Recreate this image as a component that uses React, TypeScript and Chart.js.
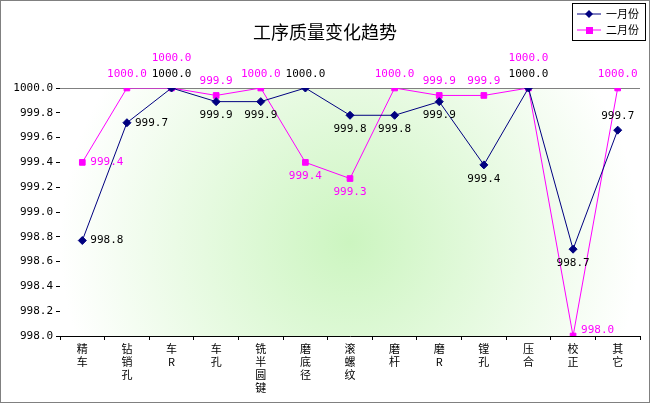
import React, { useEffect, useRef } from "react";
import { Chart, registerables } from "chart.js";
Chart.register(...registerables);

const categories = [["精","车"],["钻","销","孔"],["车","R"],["车","孔"],["铣","半","圆","键"],["磨","底","径"],["滚","螺","纹"],["磨","杆"],["磨","R"],["镗","孔"],["压","合"],["校","正"],["其","它"]];
const seriesNames = ["一月份", "二月份"];
const jan = [998.77, 999.72, 1000.0, 999.89, 999.89, 1000.0, 999.78, 999.78, 999.89, 999.38, 1000.0, 998.70, 999.66];
const feb = [999.40, 1000.0, 1000.0, 999.94, 1000.0, 999.40, 999.27, 1000.0, 999.94, 999.94, 1000.0, 998.0, 1000.0];
const janLabelPos = ["r","r","a","b","b","a","b","b","b","b","a","b","a"];
const febLabelPos = ["r","a","a2","a","a","b","b","a","a","a","a2","r","a"];
const yTicks = [998.0, 998.2, 998.4, 998.6, 998.8, 999.0, 999.2, 999.4, 999.6, 999.8, 1000.0];

const FONT = "'DejaVu Sans Mono', monospace";

const deco = {
  id: "deco",
  beforeDatasetsDraw(chart: any) {
    const { ctx, chartArea: a } = chart;
    ctx.save();
    const cx = (a.left + a.right) / 2, cy = (a.top + a.bottom) / 2 + 30;
    const g = ctx.createRadialGradient(cx, cy, 0, cx, cy, (a.right - a.left) / 2);
    g.addColorStop(0, "#ccf5c0");
    g.addColorStop(1, "#ffffff");
    ctx.fillStyle = g;
    ctx.fillRect(a.left, a.top, a.right - a.left, a.bottom - a.top);
    ctx.strokeStyle = "#808080";
    ctx.lineWidth = 1;
    ctx.beginPath();
    ctx.moveTo(a.left, a.top + 0.5);
    ctx.lineTo(a.right, a.top + 0.5);
    ctx.stroke();
    ctx.restore();
  },
  afterDraw(chart: any) {
    const { ctx, width, height } = chart;
    ctx.save();
    ctx.strokeStyle = "#808080";
    ctx.strokeRect(0.5, 0.5, width - 1, height - 1);
    ctx.font = "11px " + FONT;
    ctx.textBaseline = "middle";
    chart.data.datasets.forEach((ds: any, di: number) => {
      const meta = chart.getDatasetMeta(di);
      const pos = di === 0 ? janLabelPos : febLabelPos;
      ctx.fillStyle = di === 0 ? "#000000" : "#ff00ff";
      meta.data.forEach((pt: any, i: number) => {
        const v = ds.data[i].toFixed(1);
        let x = pt.x, y = pt.y;
        const p = pos[i];
        if (p === "r") { ctx.textAlign = "left"; x += 8; if (ds.data[i] <= 998.05) y -= 6; }
        else { ctx.textAlign = "center"; y += p === "a" ? -14 : p === "a2" ? -30 : 14; }
        ctx.fillText(v, x, y);
      });
    });
    const lx = 572, ly = 3, lw = 73, lh = 37;
    ctx.fillStyle = "#fff";
    ctx.fillRect(lx, ly, lw, lh);
    ctx.strokeStyle = "#000";
    ctx.strokeRect(lx + 0.5, ly + 0.5, lw, lh);
    ctx.font = "11px 'Noto Sans CJK SC'";
    ctx.textAlign = "left";
    chart.data.datasets.forEach((ds: any, di: number) => {
      const y = ly + 11 + di * 16;
      ctx.strokeStyle = ds.borderColor;
      ctx.beginPath(); ctx.moveTo(lx + 5, y); ctx.lineTo(lx + 29, y); ctx.stroke();
      ctx.fillStyle = ds.borderColor;
      if (di === 0) {
        ctx.beginPath(); ctx.moveTo(lx + 17, y - 4); ctx.lineTo(lx + 21, y); ctx.lineTo(lx + 17, y + 4); ctx.lineTo(lx + 13, y); ctx.closePath(); ctx.fill();
      } else ctx.fillRect(lx + 14, y - 3, 7, 7);
      ctx.fillStyle = "#000";
      ctx.fillText(ds.label, lx + 34, y);
    });
    ctx.restore();
  },
};

export default function App() {
  const ref = useRef<HTMLCanvasElement>(null);
  useEffect(() => {
    document.body.style.margin = "0";
    const chart = new Chart(ref.current!, {
      type: "line",
      data: {
        labels: categories,
        datasets: [
          { label: seriesNames[0], data: jan, borderColor: "#000080", backgroundColor: "#000080", borderWidth: 1, pointStyle: "rectRot", pointRadius: 4, tension: 0 },
          { label: seriesNames[1], data: feb, borderColor: "#ff00ff", backgroundColor: "#ff00ff", borderWidth: 1, pointStyle: "rect", pointRadius: 4, tension: 0 },
        ],
      },
      options: {
        animation: false,
        responsive: false,
        layout: { padding: { top: 88, right: 10, left: 0, bottom: 0 } },
        plugins: {
          legend: { display: false },
          tooltip: { enabled: false },
          title: { display: false },
        },
        scales: {
          x: {
            offset: true,
            grid: { display: true, drawOnChartArea: false, offset: true, color: "#000", tickLength: 4 },
            border: { color: "#000" },
            ticks: { color: "#000", font: { size: 11, family: "'Noto Sans CJK SC'" }, maxRotation: 0, autoSkip: false, padding: 2 },
            afterFit: (s: any) => { s.height = 67; },
          },
          y: {
            min: 998, max: 1000,
            afterBuildTicks: (s: any) => { s.ticks = yTicks.map((v) => ({ value: v })); },
            grid: { display: true, drawOnChartArea: false, color: "#000", tickLength: 4 },
            border: { color: "#000" },
            ticks: { color: "#000", font: { size: 11, family: FONT }, callback: (v: any) => Number(v).toFixed(1) },
            afterFit: (s: any) => { s.width = 60; },
          },
        },
      },
      plugins: [deco, {
        id: "title",
        afterDraw(c: any) {
          const ctx = c.ctx; ctx.save();
          ctx.font = "18px 'Noto Sans CJK SC'"; ctx.fillStyle = "#000"; ctx.textAlign = "center"; ctx.textBaseline = "middle";
          ctx.fillText("工序质量变化趋势", 325, 32); ctx.restore();
        },
      }],
    });
    return () => chart.destroy();
  }, []);
  return <canvas ref={ref} width={650} height={403} style={{ display: "block" }} />;
}
